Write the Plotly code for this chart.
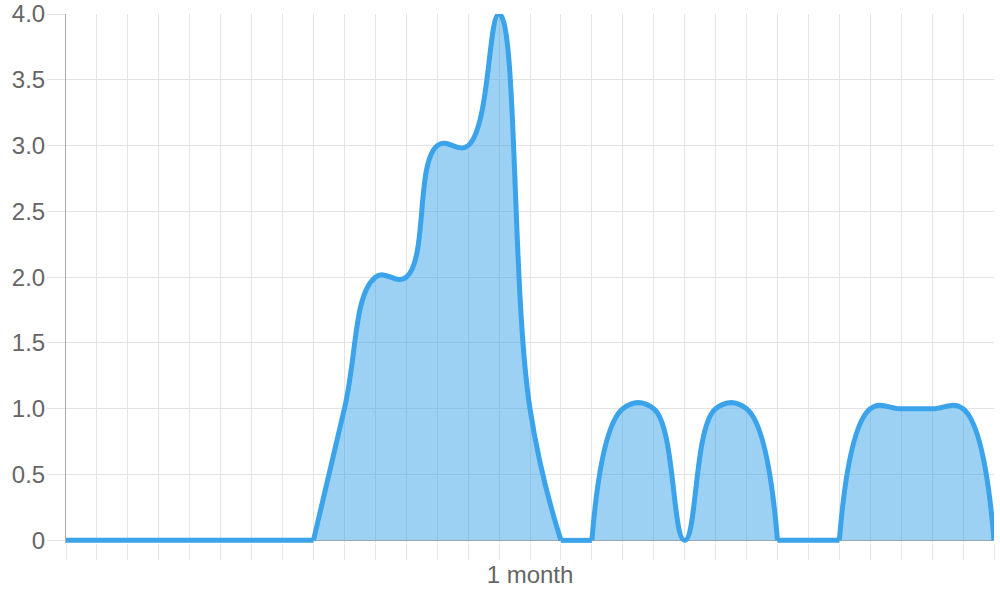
import plotly.graph_objects as go

# 31 evenly spaced points, only the middle one carries a label
x_index = list(range(31))
x_labels = ["", "", "", "", "", "", "", "", "", "", "", "", "", "", "",
            "1 month",
            "", "", "", "", "", "", "", "", "", "", "", "", "", "", ""]
values = [0, 0, 0, 0, 0, 0, 0, 0, 0, 1, 2, 2, 3, 3, 4, 1,
          0, 0, 1, 1, 0, 1, 1, 0, 0, 0, 1, 1, 1, 1, 0]

y_ticks = [0, 0.5, 1.0, 1.5, 2.0, 2.5, 3.0, 3.5, 4.0]
y_tick_text = ["0", "0.5", "1.0", "1.5", "2.0", "2.5", "3.0", "3.5", "4.0"]

LINE = "rgb(58,163,234)"
FILL = "rgba(58,163,234,0.5)"
GRID = "#e3e3e3"
AXIS = "#aaaaaa"


def split_runs(vals):
    """Split into flat zero stretches (2+ zeros) and curved stretches,
    so the spline does not dip under the axis next to flat parts."""
    flat = [False] * len(vals)
    i = 0
    while i < len(vals):
        if vals[i] == 0:
            j = i
            while j + 1 < len(vals) and vals[j + 1] == 0:
                j += 1
            if j > i:
                for k in range(i, j + 1):
                    flat[k] = True
            i = j + 1
        else:
            i += 1
    runs = []
    start = 0
    for i in range(1, len(vals)):
        seg_flat = flat[i - 1] and flat[i]
        prev_flat = flat[start] and flat[start + 1]
        if seg_flat != prev_flat:
            runs.append((start, i - 1, prev_flat))
            start = i - 1
    runs.append((start, len(vals) - 1, flat[start] and flat[start + 1]))
    return runs


fig = go.Figure()
for a, b, is_flat in split_runs(values):
    fig.add_trace(go.Scatter(
        x=x_index[a:b + 1],
        y=values[a:b + 1],
        mode="lines",
        line=dict(color=LINE, width=5,
                  shape="linear" if is_flat else "spline", smoothing=1.2),
        fill="tozeroy",
        fillcolor=FILL,
        hoverinfo="skip",
    ))

fig.update_layout(
    width=1000,
    height=600,
    margin=dict(l=66, r=6, t=14, b=57),
    plot_bgcolor="white",
    paper_bgcolor="white",
    showlegend=False,
    font=dict(family="Liberation Sans, Arial, sans-serif", size=24, color="#666666"),
    xaxis=dict(
        range=[0, 30],
        tickvals=x_index,
        ticktext=x_labels,
        showgrid=True,
        gridcolor=GRID,
        gridwidth=1,
        ticks="outside",
        ticklen=16,
        tickcolor=GRID,
        ticklabelstandoff=-6,
        showline=False,
        zeroline=False,
        automargin=False,
    ),
    yaxis=dict(
        range=[-0.02, 4.0],
        tickvals=y_ticks,
        ticktext=y_tick_text,
        showgrid=True,
        gridcolor=GRID,
        gridwidth=1,
        ticks="outside",
        ticklen=18,
        tickcolor=GRID,
        ticklabelstandoff=-3,
        ticklabeloverflow="allow",
        showline=True,
        linecolor=AXIS,
        linewidth=1,
        zeroline=True,
        zerolinecolor=AXIS,
        zerolinewidth=1,
        automargin=False,
    ),
)

# drop the browser's default body margin so the figure fills the window
fig.write_html(
    "out.html",
    config={"displayModeBar": False},
    post_script="document.body.style.margin = '0';",
)
